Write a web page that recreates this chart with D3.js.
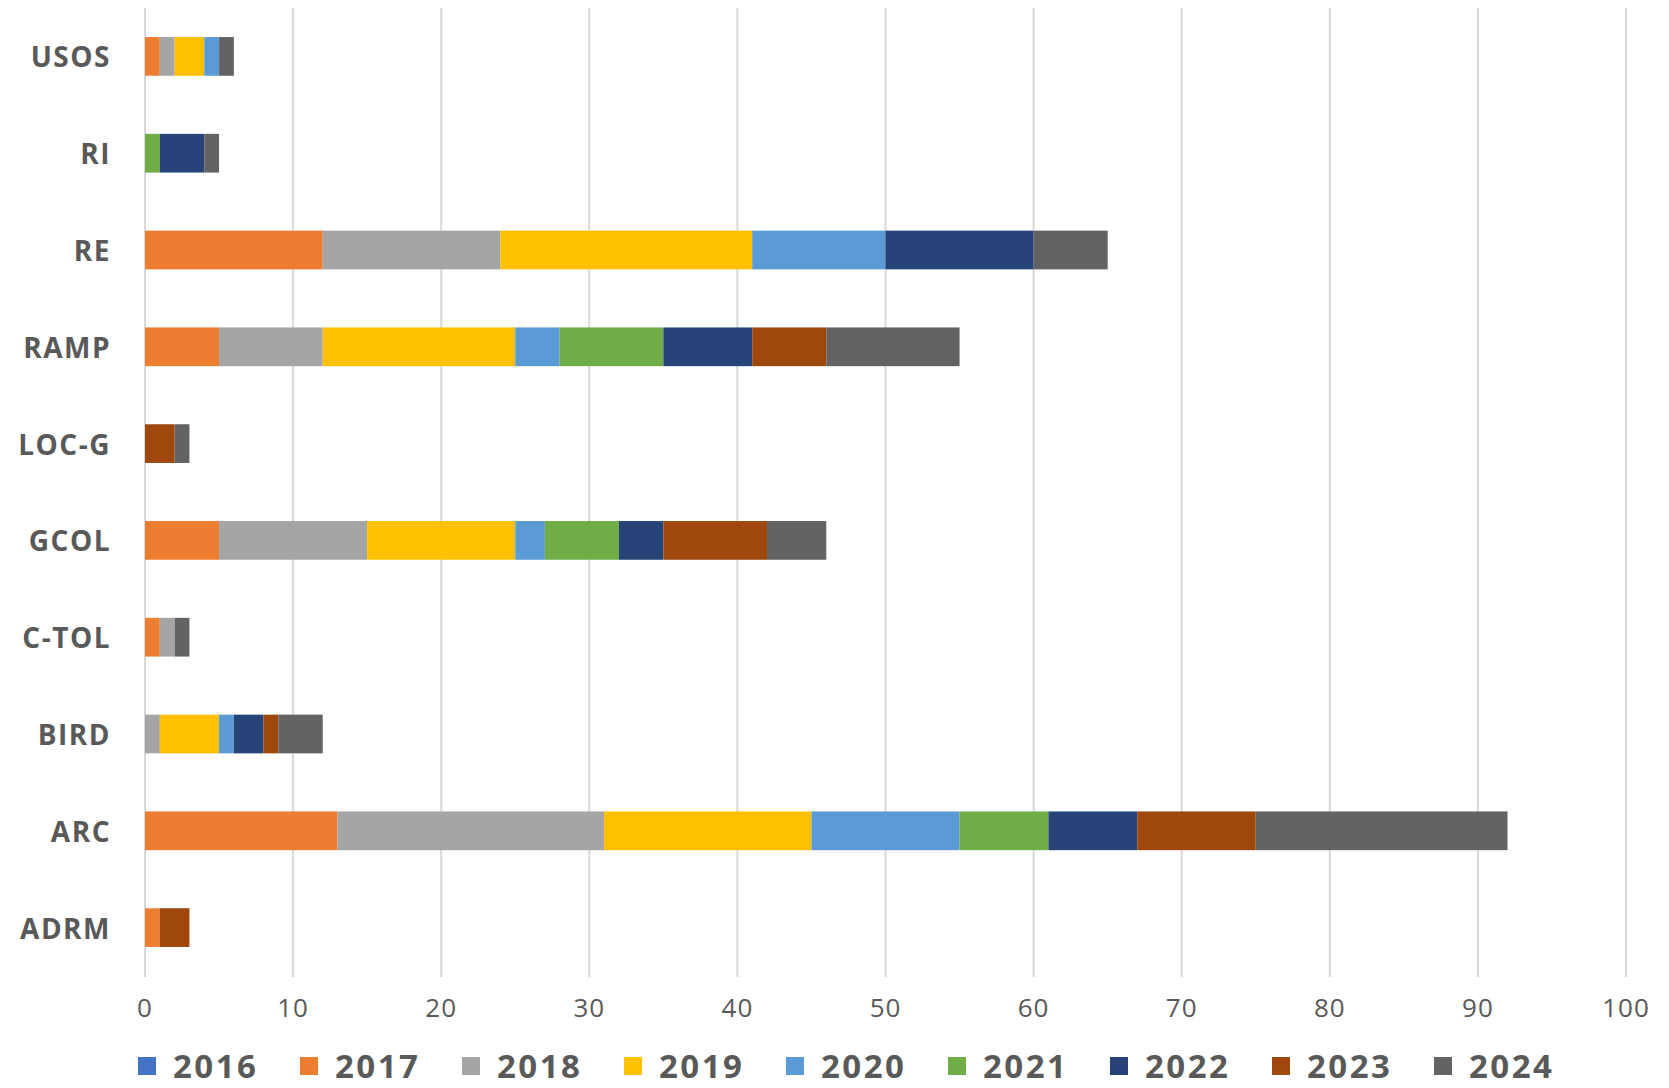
<!DOCTYPE html>
<html>
<head>
<meta charset="utf-8">
<script src="https://cdn.jsdelivr.net/npm/d3@7"></script>
<style>
  html, body { margin: 0; padding: 0; background: #fff; }
  svg { display: block; font-family: "Open Sans", "Noto Sans", sans-serif; }
</style>
</head>
<body>
<div id="chart"></div>
<script>
const categories = ['USOS', 'RI', 'RE', 'RAMP', 'LOC-G', 'GCOL', 'C-TOL', 'BIRD', 'ARC', 'ADRM'];
const years = ['2016', '2017', '2018', '2019', '2020', '2021', '2022', '2023', '2024'];
const colors = ['#4472C4', '#ED7D31', '#A5A5A5', '#FFC000', '#5B9BD5', '#70AD47', '#264478', '#9E480E', '#636363'];

// one array per year, in the order of categories
const v2016 = [0, 0, 0, 0, 0, 0, 0, 0, 0, 0];
const v2017 = [1, 0, 12, 5, 0, 5, 1, 0, 13, 1];
const v2018 = [1, 0, 12, 7, 0, 10, 1, 1, 18, 0];
const v2019 = [2, 0, 17, 13, 0, 10, 0, 4, 14, 0];
const v2020 = [1, 0, 9, 3, 0, 2, 0, 1, 10, 0];
const v2021 = [0, 1, 0, 7, 0, 5, 0, 0, 6, 0];
const v2022 = [0, 3, 10, 6, 0, 3, 0, 2, 6, 0];
const v2023 = [0, 0, 0, 5, 2, 7, 0, 1, 8, 2];
const v2024 = [1, 1, 5, 9, 1, 4, 1, 3, 17, 0];
const series = [v2016, v2017, v2018, v2019, v2020, v2021, v2022, v2023, v2024];

const xTicks = [0, 10, 20, 30, 40, 50, 60, 70, 80, 90, 100];

const width = 1669, height = 1088;
const margin = { top: 8, left: 145, right: 43, bottom: 112 };

const rows = categories.map((c, i) => {
  const r = { cat: c };
  years.forEach((y, k) => { r[y] = series[k][i]; });
  return r;
});
const stacked = d3.stack().keys(years)(rows);

const x = d3.scaleLinear().domain([0, 100]).range([margin.left, width - margin.right]);
const y = d3.scaleBand().domain(categories).range([margin.top, height - margin.bottom]).paddingInner(0.6).paddingOuter(0.3);

const svg = d3.select('#chart').append('svg')
  .attr('width', width)
  .attr('height', height);

// gridlines
svg.append('g')
  .selectAll('line')
  .data(xTicks)
  .enter()
  .append('line')
  .attr('x1', d => x(d)).attr('x2', d => x(d))
  .attr('y1', margin.top).attr('y2', height - margin.bottom + 1)
  .attr('stroke', '#d9d9d9')
  .attr('stroke-width', 2);

// bars
svg.append('g')
  .selectAll('g')
  .data(stacked)
  .enter()
  .append('g')
  .attr('fill', (d, i) => colors[i])
  .selectAll('rect')
  .data(d => d.map((s, i) => ({ s, cat: categories[i] })))
  .enter()
  .append('rect')
  .attr('x', d => x(d.s[0]))
  .attr('width', d => x(d.s[1]) - x(d.s[0]))
  .attr('y', d => y(d.cat))
  .attr('height', y.bandwidth());

// category labels
svg.append('g')
  .selectAll('text')
  .data(categories)
  .enter()
  .append('text')
  .attr('x', 111)
  .attr('y', d => y(d) + y.bandwidth() / 2)
  .attr('text-anchor', 'end')
  .attr('dominant-baseline', 'central')
  .attr('fill', '#595959')
  .style('font-size', '28px')
  .style('font-weight', 'bold')
  .style('letter-spacing', '1.5px')
  .text(d => d);

// x tick labels
svg.append('g')
  .selectAll('text')
  .data(xTicks)
  .enter()
  .append('text')
  .attr('x', d => x(d))
  .attr('y', 1007)
  .attr('text-anchor', 'middle')
  .attr('dominant-baseline', 'central')
  .attr('fill', '#595959')
  .style('font-size', '26px')
  .style('letter-spacing', '1px')
  .text(d => d);

// legend
const legend = svg.append('g')
  .selectAll('g')
  .data(years)
  .enter()
  .append('g')
  .attr('transform', (d, i) => `translate(${138 + i * 162}, 1065)`);

legend.append('rect')
  .attr('x', 0).attr('y', -8)
  .attr('width', 18).attr('height', 18)
  .attr('fill', (d, i) => colors[i]);

legend.append('text')
  .attr('x', 35)
  .attr('y', 0)
  .attr('dominant-baseline', 'central')
  .attr('fill', '#595959')
  .style('font-size', '33px')
  .style('font-weight', 'bold')
  .style('letter-spacing', '2.5px')
  .text(d => d);
</script>
</body>
</html>
